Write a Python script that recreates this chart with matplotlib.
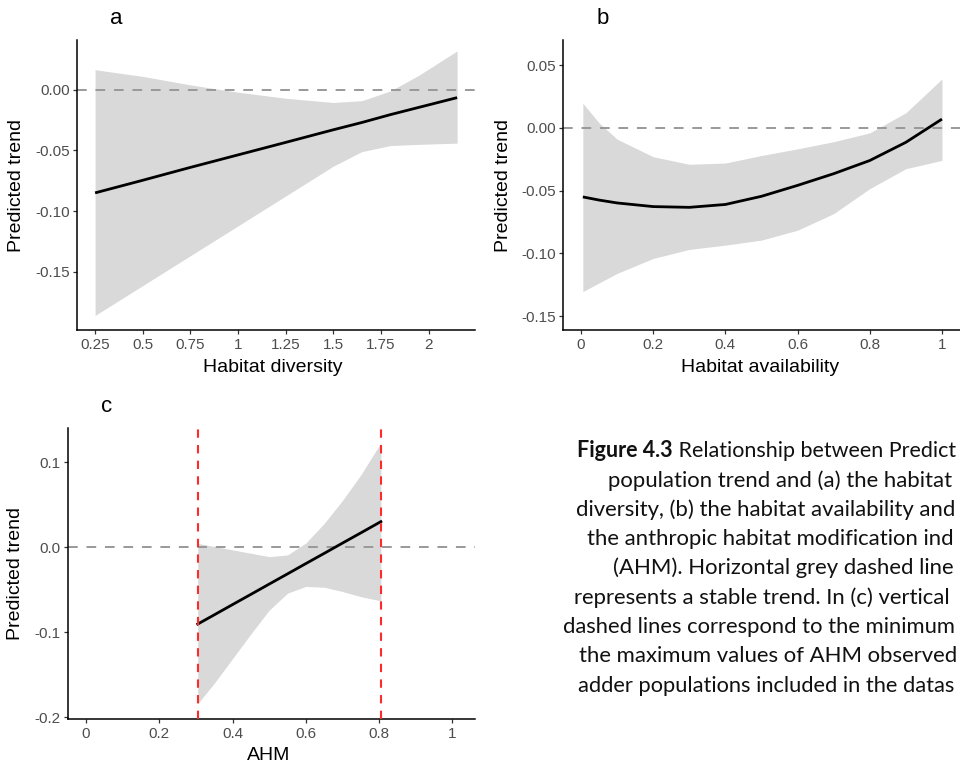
import matplotlib
matplotlib.use("Agg")
import matplotlib.pyplot as plt

# ---------------- data ----------------
a_x = [0.25, 0.5, 0.75, 1.0, 1.25, 1.5, 1.65, 1.8, 1.95, 2.15]
a_fit = [-0.085, -0.0746, -0.064, -0.0537, -0.0434, -0.033, -0.027, -0.0205, -0.0145, -0.0065]
a_upper = [0.0165, 0.011, 0.004, -0.002, -0.007, -0.0105, -0.009, -0.001, 0.012, 0.032]
a_lower = [-0.186, -0.1614, -0.1368, -0.1122, -0.0876, -0.063, -0.051, -0.046, -0.045, -0.044]

b_x = [0.005, 0.05, 0.1, 0.2, 0.3, 0.4, 0.5, 0.6, 0.7, 0.8, 0.9, 1.0]
b_fit = [-0.055, -0.0575, -0.0598, -0.0627, -0.0633, -0.061, -0.0545, -0.0458, -0.0365, -0.026, -0.0115, 0.007]
b_upper = [0.0196, 0.004, -0.009, -0.023, -0.029, -0.028, -0.022, -0.0167, -0.011, -0.004, 0.012, 0.039]
b_lower = [-0.1304, -0.1235, -0.1159, -0.104, -0.0968, -0.0934, -0.0894, -0.0815, -0.0683, -0.0484, -0.0325, -0.0259]

c_x = [0.305, 0.35, 0.4, 0.45, 0.5, 0.55, 0.6, 0.65, 0.7, 0.75, 0.805]
c_fit = [-0.0903, -0.0795, -0.0674, -0.0554, -0.0433, -0.0313, -0.0192, -0.0072, 0.0049, 0.0169, 0.0302]
c_upper = [0.0047, 0.001, -0.003, -0.007, -0.011, -0.009, 0.005, 0.028, 0.055, 0.085, 0.123]
c_lower = [-0.184, -0.160, -0.131, -0.102, -0.074, -0.054, -0.046, -0.047, -0.052, -0.058, -0.063]
c_obs_range = [0.305, 0.805]

a_xticks = [0.25, 0.5, 0.75, 1.0, 1.25, 1.5, 1.75, 2.0]
a_xticklabels = ["0.25", "0.5", "0.75", "1", "1.25", "1.5", "1.75", "2"]
a_yticks = [0.0, -0.05, -0.10, -0.15]
a_yticklabels = ["0.00", "-0.05", "-0.10", "-0.15"]
b_xticks = [0, 0.2, 0.4, 0.6, 0.8, 1.0]
b_xticklabels = ["0", "0.2", "0.4", "0.6", "0.8", "1"]
b_yticks = [0.05, 0.0, -0.05, -0.10, -0.15]
b_yticklabels = ["0.05", "0.00", "-0.05", "-0.10", "-0.15"]
c_xticks = [0, 0.2, 0.4, 0.6, 0.8, 1.0]
c_xticklabels = ["0", "0.2", "0.4", "0.6", "0.8", "1"]
c_yticks = [0.1, 0.0, -0.1, -0.2]
c_yticklabels = ["0.1", "0.0", "-0.1", "-0.2"]

# caption, as far as it is visible in the (right-cropped) reference
caption_bold = "Figure 4.3"
caption_first_rest = " Relationship between Predict"
caption_lines = [
    "population trend and (a) the habitat",
    "diversity, (b) the habitat availability and",
    "the anthropic habitat modification ind",
    "(AHM). Horizontal grey dashed line",
    "represents a stable trend. In (c) vertical",
    "dashed lines correspond to the minimum",
    "the maximum values of AHM observed",
    "adder populations included in the datas",
]
caption_starts = [577.3, 608.3, 576.0, 587.3, 613.3, 574.3, 563.3, 578.7, 577.7]

# ---------------- figure ----------------
W, H = 960, 765
fig = plt.figure(figsize=(W / 100, H / 100), dpi=100)
FONT = "Liberation Sans"
plt.rcParams["font.family"] = FONT

def px_axes(l, r, t, b):
    return fig.add_axes([l / W, 1 - b / H, (r - l) / W, (b - t) / H])

def style(ax, xlim, ylim, xt, xtl, yt, ytl):
    ax.set_xlim(*xlim)
    ax.set_ylim(*ylim)
    for s in ["top", "right"]:
        ax.spines[s].set_visible(False)
    for s in ["left", "bottom"]:
        ax.spines[s].set_linewidth(1.1)
        ax.spines[s].set_color("black")
    ax.set_xticks(xt)
    ax.set_xticklabels(xtl)
    ax.set_yticks(yt)
    ax.set_yticklabels(ytl)
    ax.tick_params(length=3, width=0.9, color="#333333", labelsize=11,
                   labelcolor="#4d4d4d", pad=2)
    ax.tick_params(axis="x", pad=3)
    ax.set_facecolor("none")

RIB = "#d9d9d9"
GREY = "#999999"

def draw(ax, x, fit, lo, hi):
    ax.fill_between(x, lo, hi, color=RIB, lw=0, zorder=1)
    ax.axhline(0, color=GREY, lw=1.4, dashes=(5, 4.5), zorder=2)
    ax.plot(x, fit, color="black", lw=2.0, zorder=3, solid_capstyle="butt")

# panel a
axa = px_axes(77, 475, 40, 330)
draw(axa, a_x, a_fit, a_lower, a_upper)
style(axa, (0.155, 2.244), (-0.198, 0.041), a_xticks, a_xticklabels, a_yticks, a_yticklabels)

# panel b
axb = px_axes(563, 960, 40, 330)
draw(axb, b_x, b_fit, b_lower, b_upper)
style(axb, (-0.05, 1.05), (-0.161, 0.070), b_xticks, b_xticklabels, b_yticks, b_yticklabels)

# panel c
axc = px_axes(67.7, 475, 428.3, 719)
axc.fill_between(c_x, c_lower, c_upper, color=RIB, lw=0, zorder=1)
axc.axhline(0, color=GREY, lw=1.4, dashes=(5, 4.5), zorder=2)
for v in c_obs_range:
    axc.axvline(v, color="#ff2a2a", lw=1.5, dashes=(4, 3.5), zorder=4)
axc.plot(c_x, c_fit, color="black", lw=2.0, zorder=3)
style(axc, (-0.05, 1.062), (-0.202, 0.140), c_xticks, c_xticklabels, c_yticks, c_yticklabels)

def ftext(x, y, s, **kw):
    return fig.text(x / W, 1 - y / H, s, **kw)

# panel letters
ftext(116, 18, "a", fontsize=16, ha="center", va="center")
ftext(603, 18, "b", fontsize=16, ha="center", va="center")
ftext(107, 406, "c", fontsize=16, ha="center", va="center")

# axis titles
lab = dict(fontsize=14, color="black", ha="center", va="center")
ftext(273, 367, "Habitat diversity", **lab)
ftext(760, 367, "Habitat availability", **lab)
ftext(269, 755, "AHM", **lab)
ftext(17, 185, "Predicted trend", rotation=90, **lab)
ftext(503, 185, "Predicted trend", rotation=90, **lab)
ftext(16, 574, "Predicted trend", rotation=90, **lab)

# caption
CAP_FONT = "Lato"
CAP_COL = "#111111"
renderer = fig.canvas.get_renderer()

def width_at(s, size, **kw):
    t = fig.text(0, 0, s, fontsize=size, family=CAP_FONT, **kw)
    w = t.get_window_extent(renderer).width
    t.remove()
    return w

cap_size = 14 * 341.0 / width_at(caption_lines[3], 14)
base0 = 457.3
step = 29.3
LIMIT = 957.0

# first line: bold + regular
w1 = width_at(caption_bold, cap_size, fontweight="bold")
w2 = width_at(caption_first_rest, cap_size)
s1 = min(cap_size, cap_size * (LIMIT - caption_starts[0]) / (w1 + w2))
w1 = width_at(caption_bold, s1, fontweight="bold")
ftext(caption_starts[0], base0, caption_bold, fontsize=s1, family=CAP_FONT,
      fontweight="bold", ha="left", va="baseline", color=CAP_COL)
ftext(caption_starts[0] + w1, base0, caption_first_rest, fontsize=s1,
      family=CAP_FONT, ha="left", va="baseline", color=CAP_COL)

for i, line in enumerate(caption_lines, start=1):
    x0 = caption_starts[i]
    w = width_at(line, cap_size)
    size = min(cap_size, cap_size * (LIMIT - x0) / w)
    ftext(x0, base0 + step * i, line, fontsize=size, family=CAP_FONT,
          ha="left", va="baseline", color=CAP_COL)

fig.savefig("out.png", dpi=100)
